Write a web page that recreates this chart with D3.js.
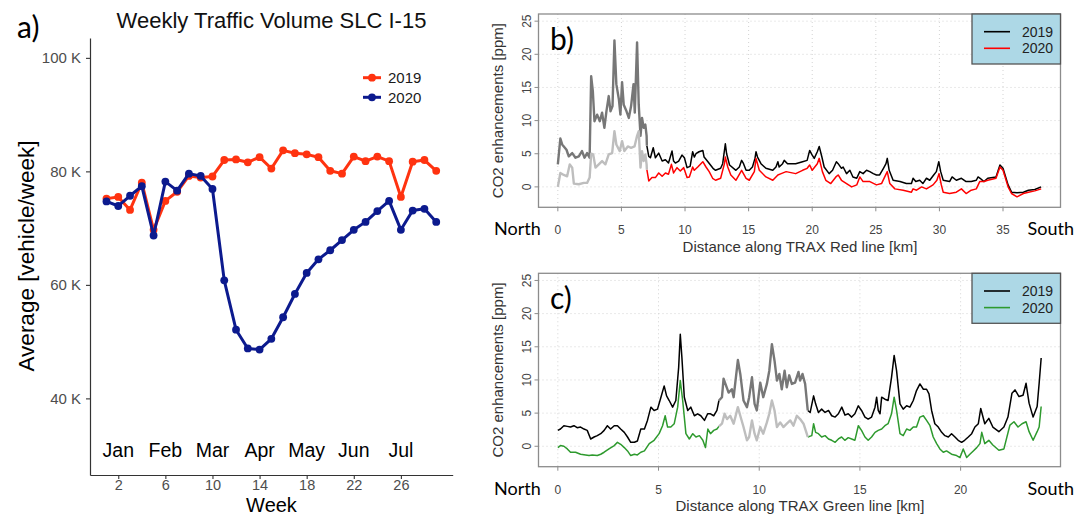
<!DOCTYPE html>
<html>
<head>
<meta charset="utf-8">
<script src="https://cdn.jsdelivr.net/npm/d3@7"></script>
<style>
  body { margin: 0; background: #fff; }
  svg { display: block; }
</style>
</head>
<body>
<svg id="fig" width="1088" height="516"></svg>
<script>
// ---------- a) weekly traffic volume (thousand vehicles / week) ----------
const weeks = [1,2,3,4,5,6,7,8,9,10,11,12,13,14,15,16,17,18,19,20,21,22,23,24,25,26,27,28,29];
const traffic2019 = [75.2,75.5,73.2,78.0,69.7,74.8,76.4,79.2,78.9,79.1,82.0,82.1,81.6,82.5,80.5,83.7,83.2,83.0,82.5,80.1,79.6,82.6,81.8,82.6,81.8,75.5,81.7,82.0,80.1];
const traffic2020 = [74.7,73.9,75.7,77.4,68.7,78.2,76.6,79.6,79.2,76.9,60.8,52.1,48.8,48.6,50.5,54.3,58.4,62.1,64.5,66.1,67.9,69.7,71.1,73.0,74.8,69.7,73.1,73.4,71.1];
const weekTicks = [2,6,10,14,18,22,26];
const monthLabels = ["Jan","Feb","Mar","Apr","May","Jun","Jul"];
const trafficTicks = [40,60,80,100];

// ---------- b) TRAX Red line, CO2 enhancement [ppm] vs distance [km] ----------
const redKm2019 = [0,0.2,0.34,0.47,0.68,0.86,1.13,1.39,1.65,1.9,2.1,2.3,2.5,2.62,2.75,2.88,3.09,3.3,3.48,3.66,3.82,4.0,4.14,4.3,4.45,4.6,4.8,4.92,5.05,5.18,5.4,5.58,5.76,5.95,6.05,6.23,6.36,6.5,6.62,6.75,6.88,6.98,
  7.0,7.15,7.28,7.5,7.67,7.93,8.2,8.46,8.7,8.98,9.1,9.24,9.5,9.76,9.95,10.16,10.4,10.6,10.73,10.86,11.1,11.4,11.5,11.8,12.2,12.4,12.8,12.96,13.1,13.17,13.27,13.5,14.0,14.27,14.45,14.6,14.8,15.05,15.3,15.5,15.58,15.7,15.97,16.36,16.9,17.15,17.3,17.4,17.67,17.8,18.06,18.7,19.24,19.6,19.8,20.0,20.16,20.4,20.55,20.76,20.94,21.33,21.6,21.9,22.04,22.3,22.43,22.7,22.96,23.2,23.5,23.74,24.0,24.27,24.53,24.8,25.05,25.3,25.6,25.8,25.9,26.05,26.36,26.9,27.4,27.8,27.93,28.14,28.45,28.7,28.98,29.24,29.55,29.76,29.95,30.1,30.3,30.8,31.0,31.33,31.73,32.1,32.5,32.9,33.04,33.2,33.5,33.8,34.45,34.76,35.0,35.4,35.67,36.1,36.6,37.0,37.5,38.0];
const redPpm2019 = [3.4,7.3,6.4,6.1,5.6,4.6,5.1,4.4,4.6,5.4,4.4,5.1,4.4,16.7,14.5,9.9,10.9,9.9,11.2,8.9,11.4,13.7,11.4,12.2,22.1,15.5,13.2,10.9,15.8,12.4,11.4,10.4,12.2,15.5,11.2,21.8,12.4,7.7,10.4,8.9,9.4,7.7,
  6.2,4.6,4.4,5.9,4.4,5.1,3.9,4.1,3.6,5.4,3.9,3.6,3.9,4.8,4.4,2.9,3.1,5.3,4.5,5.0,5.3,5.5,4.5,3.8,2.8,2.5,2.8,3.5,5.5,6.5,5.0,3.3,2.5,3.0,4.0,3.5,2.5,2.5,3.0,4.3,5.3,4.5,3.5,2.8,2.5,3.0,3.8,3.0,3.5,4.0,3.5,3.5,3.8,4.0,5.5,4.8,4.3,5.3,6.1,4.5,3.0,2.0,2.5,3.8,3.5,2.8,3.0,2.0,2.5,1.5,1.3,2.3,2.0,2.5,2.3,2.0,1.8,1.8,2.8,3.5,4.3,2.5,1.0,0.8,0.5,0.5,1.3,0.8,1.0,0.5,1.3,1.0,1.8,2.3,3.8,2.3,1.0,0.8,1.5,1.0,1.3,0.8,0.8,1.0,1.5,1.3,0.8,1.3,1.5,3.3,2.8,0.3,-0.8,-0.9,-0.8,-0.5,-0.4,0.0];
const redKm2020 = [0,0.2,0.47,0.73,0.94,1.13,1.26,1.65,2.04,2.3,2.5,2.62,2.78,2.96,3.22,3.48,3.74,4.0,4.27,4.45,4.6,4.87,5.05,5.23,5.5,5.76,6.03,6.23,6.36,6.5,6.62,6.75,6.88,6.98,
  7.0,7.15,7.4,7.67,7.93,8.2,8.46,8.7,8.93,9.1,9.37,9.63,9.9,10.16,10.34,10.6,10.73,11.0,11.4,11.65,11.9,12.17,12.4,12.8,13.1,13.17,13.36,13.6,14.0,14.45,14.8,15.05,15.45,15.58,15.84,16.36,16.9,17.3,17.56,17.95,18.7,19.24,19.6,19.8,20.0,20.4,20.55,20.8,21.07,21.46,21.86,22.04,22.3,22.7,23.1,23.5,23.74,24.0,24.53,25.05,25.45,25.7,25.9,26.1,26.5,27.15,27.8,27.93,28.2,28.6,28.98,29.5,29.8,29.97,30.15,30.3,30.8,31.33,31.73,32.1,32.5,32.9,33.17,33.5,33.8,34.45,34.76,35.0,35.4,35.67,36.1,36.6,37.0,37.5,38.0];
const redPpm2020 = [0.0,2.1,1.8,1.6,3.4,2.9,0.5,0.4,0.6,0.6,1.4,5.0,4.9,2.9,3.4,3.9,3.4,4.9,5.1,8.4,6.4,5.4,6.9,5.4,6.1,5.9,6.1,7.7,8.4,2.9,5.4,3.9,4.9,3.4,
  2.6,0.9,1.4,1.4,2.1,1.6,2.1,1.9,3.4,2.1,2.9,2.4,2.9,1.4,1.5,3.0,2.5,3.0,3.8,3.0,2.3,1.3,1.0,1.3,3.5,4.5,3.0,1.8,1.0,2.5,1.3,1.0,2.3,4.3,2.5,1.5,1.0,1.8,2.0,2.3,2.0,2.5,2.8,3.3,2.5,3.5,4.3,2.3,1.0,0.5,1.5,1.8,1.0,0.5,0.0,0.3,1.5,0.8,0.8,0.3,0.5,1.5,2.3,0.5,-0.3,-0.5,-0.8,-0.3,-0.5,0.0,-0.3,0.3,1.0,2.0,0.3,-0.8,-1.0,-0.8,-0.3,-1.0,-0.5,-0.3,0.8,0.8,1.0,1.3,3.0,2.5,0.0,-1.0,-1.5,-1.0,-0.8,-0.6,-0.3];
const redHighlight = [0, 7];   // stretch drawn in grey

// ---------- c) TRAX Green line ----------
const greenKm2019 = [0,0.13,0.3,0.47,0.63,0.8,0.96,1.13,1.3,1.46,1.63,1.8,1.96,2.13,2.3,2.46,2.62,2.8,2.96,3.12,3.3,3.46,3.62,3.8,3.95,4.12,4.3,4.45,4.62,4.78,4.95,5.12,5.28,5.4,5.53,5.7,5.86,6.0,6.08,6.16,6.28,6.45,6.6,6.78,6.94,7.1,7.28,7.44,7.58,7.74,7.9,8.0,
  8.15,8.23,8.3,8.48,8.64,8.73,8.94,9.06,9.22,9.39,9.5,9.64,9.77,9.88,10.05,10.2,10.38,10.5,10.63,10.76,10.88,11.0,11.12,11.26,11.37,11.49,11.62,11.78,11.95,12.03,12.15,12.28,12.41,
  12.53,12.7,12.8,12.94,13.1,13.27,13.44,13.6,13.77,13.93,14.1,14.26,14.42,14.59,14.75,14.92,15.08,15.25,15.41,15.58,15.75,15.83,15.91,16.0,16.08,16.24,16.4,16.57,16.7,16.82,16.99,17.15,17.32,17.48,17.65,17.81,17.98,18.15,18.31,18.43,18.56,18.72,18.89,19.06,19.22,19.39,19.55,19.72,19.88,20.05,20.2,20.38,20.55,20.71,20.88,21.0,21.2,21.4,21.6,21.9,22.15,22.35,22.55,22.7,22.9,23.1,23.25,23.4,23.6,23.8,23.9,24.0];
const greenPpm2019 = [2.4,2.6,3.1,3.0,2.9,3.1,2.8,2.9,2.6,2.4,1.1,1.4,1.6,1.9,2.4,3.1,2.6,3.1,3.1,2.6,2.1,1.4,0.6,0.6,0.8,2.6,2.6,3.9,5.9,5.4,5.6,7.4,9.1,7.6,6.9,5.9,6.9,11.9,16.9,13.4,7.4,5.4,5.9,4.6,4.9,4.6,3.9,4.9,4.9,4.6,5.4,6.9,
  7.4,10.2,9.6,8.1,8.6,7.4,13.0,10.9,6.9,5.9,7.4,10.4,6.4,5.4,9.6,7.4,9.4,11.4,15.4,12.9,9.9,10.9,8.6,11.4,8.9,10.7,9.4,9.6,11.2,9.9,10.9,9.4,5.4,
  5.1,7.6,6.4,5.1,5.6,5.1,5.4,4.6,4.4,4.9,5.9,4.7,4.9,4.4,4.9,6.1,5.4,4.4,4.1,4.4,5.9,7.4,5.4,4.9,7.4,7.1,6.9,10.4,13.7,11.4,6.4,5.6,6.1,5.9,6.9,8.4,9.4,8.6,8.6,7.9,5.4,3.4,2.9,2.1,1.6,1.4,1.9,1.4,0.9,0.6,0.9,1.4,1.9,2.9,3.4,5.7,3.4,4.2,2.9,2.2,2.9,4.4,8.0,8.5,7.5,7.7,9.5,6.5,4.4,6.0,9.5,13.3];
const greenKm2020 = [0,0.13,0.3,0.47,0.63,0.88,1.13,1.38,1.55,1.71,1.96,2.13,2.3,2.54,2.8,2.96,3.12,3.3,3.46,3.62,3.8,3.95,4.12,4.3,4.54,4.78,5.03,5.2,5.33,5.45,5.61,5.78,5.95,6.08,6.2,6.36,6.53,6.7,6.86,7.03,7.2,7.33,7.45,7.58,7.74,7.9,8.0,
  8.15,8.28,8.4,8.56,8.73,8.94,9.06,9.22,9.39,9.5,9.64,9.77,9.88,10.05,10.2,10.38,10.5,10.63,10.76,10.88,11.04,11.2,11.37,11.54,11.7,11.87,12.03,12.2,12.36,12.41,
  12.61,12.7,12.8,12.94,13.1,13.27,13.44,13.6,13.77,13.93,14.09,14.25,14.42,14.59,14.75,14.92,15.08,15.25,15.41,15.58,15.75,15.91,16.08,16.24,16.4,16.57,16.7,16.82,16.99,17.15,17.32,17.48,17.65,17.81,17.98,18.15,18.31,18.48,18.64,18.81,18.97,19.14,19.3,19.55,19.8,19.97,20.13,20.3,20.46,20.63,20.8,20.96,21.05,21.2,21.4,21.6,21.9,22.15,22.45,22.65,22.85,23.05,23.25,23.4,23.6,23.8,23.9,24.0];
const greenPpm2020 = [-0.2,0.1,0.0,-0.4,-0.9,-0.9,-1.2,-1.3,-1.4,-1.3,-1.4,-1.2,-0.9,-0.4,0.1,0.6,0.3,-0.2,-0.7,-1.4,-1.2,-1.3,-0.9,-0.7,0.4,0.9,1.9,3.1,4.6,2.9,2.9,3.4,5.9,9.9,6.9,1.9,1.1,1.9,1.4,1.6,0.9,-0.2,2.6,1.9,2.4,2.6,3.0,
  3.4,4.9,4.1,4.6,3.4,5.9,4.6,2.9,0.9,1.4,3.9,1.9,0.9,2.9,1.9,3.6,4.9,6.9,5.4,2.9,3.6,2.9,3.4,3.9,3.1,4.6,4.1,3.4,1.9,1.4,
  1.6,3.4,2.1,1.9,1.4,1.6,1.1,0.9,0.6,1.1,1.4,0.9,1.3,1.1,0.9,3.1,2.4,1.4,0.9,1.4,2.1,2.4,2.6,3.1,3.4,4.9,7.4,5.4,1.9,1.6,2.6,2.4,2.9,2.9,4.4,4.6,3.9,3.1,1.4,0.4,-0.4,-0.9,-0.7,-1.2,-1.4,-1.7,-0.4,-1.7,-1.2,-0.7,-0.2,0.4,2.1,0.4,0.9,0.2,-0.6,-0.4,3.2,3.7,2.9,3.4,3.7,2.2,0.9,2.2,2.9,6.0];
const greenHighlight = [8.0, 12.41];

const ppmTicks = [0,5,10,15,20,25];
const years = ["2019","2020"];

// ---------------------------------------------------------------------------
const svg = d3.select("#fig");
const SANS = "'Liberation Sans', Arial, Helvetica, sans-serif";
const LABEL = "Lato, 'Open Sans', sans-serif";

// ===== panel a =====
(function drawTraffic() {
  const g = svg.append("g");
  const x = d3.scaleLinear().domain([-0.4, 30.4]).range([90, 452.7]);
  const y = d3.scaleLinear().domain([26.5, 103.5]).range([475, 38]);
  const red = "#FF3310", blue = "#0C1A8E";

  const xAxis = g.append("g").attr("transform", "translate(0,475)")
    .call(d3.axisBottom(x).tickValues(weekTicks).tickSize(4).tickSizeOuter(0).tickPadding(1));
  const yAxis = g.append("g").attr("transform", "translate(90,0)")
    .call(d3.axisLeft(y).tickValues(trafficTicks).tickSize(4).tickSizeOuter(0).tickPadding(5)
      .tickFormat(d => d + " K"));
  [xAxis, yAxis].forEach(a => {
    a.select(".domain").attr("stroke", "#333").attr("stroke-width", 1.2);
    a.selectAll(".tick line").attr("stroke", "#333").attr("stroke-width", 1.1);
    a.selectAll(".tick text").attr("fill", "#4D4D4D").style("font", "15px " + SANS);
  });
  xAxis.selectAll(".tick text").style("font", "14.5px " + SANS);

  // month names above the week ticks
  g.selectAll(".month").data(monthLabels).join("text")
    .attr("x", (d, i) => x(weekTicks[i])).attr("y", 457)
    .attr("text-anchor", "middle").attr("fill", "#000")
    .style("font", "19.5px " + SANS).text(d => d);

  const line = d3.line().x((d, i) => x(weeks[i])).y(d => y(d));
  [[traffic2019, red], [traffic2020, blue]].forEach(([vals, col]) => {
    g.append("path").datum(vals).attr("d", line)
      .attr("fill", "none").attr("stroke", col).attr("stroke-width", 3).attr("stroke-linejoin", "round");
    g.selectAll(null).data(vals).join("circle")
      .attr("cx", (d, i) => x(weeks[i])).attr("cy", d => y(d)).attr("r", 3.9).attr("fill", col);
  });

  // legend
  const leg = g.append("g");
  [[years[0], red, 77.7], [years[1], blue, 97.3]].forEach(([lab, col, ly]) => {
    leg.append("line").attr("x1", 363).attr("x2", 381).attr("y1", ly).attr("y2", ly)
      .attr("stroke", col).attr("stroke-width", 3);
    leg.append("circle").attr("cx", 372).attr("cy", ly).attr("r", 3.9).attr("fill", col);
    leg.append("text").attr("x", 388).attr("y", ly + 5.5).attr("fill", "#1A1A1A")
      .style("font", "15px " + SANS).text(lab);
  });

  g.append("text").attr("x", 271.5).attr("y", 28).attr("text-anchor", "middle")
    .style("font", "22px " + SANS).attr("fill", "#111").text("Weekly Traffic Volume SLC I-15");
  g.append("text").attr("x", 271.5).attr("y", 511.5).attr("text-anchor", "middle")
    .style("font", "20px " + SANS).attr("fill", "#000").text("Week");
  g.append("text").attr("transform", "translate(26,256) rotate(-90)").attr("dy", "0.35em")
    .attr("text-anchor", "middle").style("font", "22.5px " + SANS).attr("fill", "#000")
    .text("Average [vehicle/week]");
  g.append("text").attr("x", 17).attr("y", 38).style("font", "30px " + LABEL).attr("fill", "#000").text("a)");
})();

// ===== panels b, c =====
function drawProfile(o) {
  const g = svg.append("g");
  const L = 538.5, R = 1060.5;
  const x = d3.scaleLinear().domain(o.xDomain).range([L, R]);
  const y = d3.scaleLinear().domain([-3.08, 26.08]).range([o.bottom, o.top]);

  // dotted grid
  g.selectAll(".gx").data(o.xTicks).join("line")
    .attr("x1", d => x(d)).attr("x2", d => x(d)).attr("y1", o.top).attr("y2", o.bottom)
    .attr("stroke", "#D3D3D3").attr("stroke-dasharray", "1,3");
  g.selectAll(".gy").data(ppmTicks).join("line")
    .attr("x1", L).attr("x2", R).attr("y1", d => y(d)).attr("y2", d => y(d))
    .attr("stroke", "#D3D3D3").attr("stroke-dasharray", "1,3");

  // series: coloured outside the highlight stretch, grey inside it
  const [h0, h1] = o.highlight;
  const line = d3.line().x(d => x(d[0])).y(d => y(d[1]));
  o.series.forEach(s => {
    const pts = s.km.map((k, i) => [k, s.ppm[i]]);
    const pre = pts.filter(p => p[0] <= h0);
    const mid = pts.filter(p => p[0] >= h0 && p[0] <= h1);
    const post = pts.filter(p => p[0] >= h1);
    [pre, post].forEach(seg => {
      if (seg.length > 1) g.append("path").datum(seg).attr("d", line).attr("fill", "none")
        .attr("stroke", s.color).attr("stroke-width", 1.5).attr("stroke-linejoin", "round");
    });
    g.append("path").datum(mid).attr("d", line).attr("fill", "none")
      .attr("stroke", s.grey).attr("stroke-width", 2.4).attr("stroke-linejoin", "round");
  });

  // frame and ticks
  g.append("rect").attr("x", L).attr("y", o.top).attr("width", R - L).attr("height", o.bottom - o.top)
    .attr("fill", "none").attr("stroke", "#8C8C8C").attr("stroke-width", 1.3);
  g.selectAll(".tx").data(o.xTicks).join("line")
    .attr("x1", d => x(d)).attr("x2", d => x(d)).attr("y1", o.bottom).attr("y2", o.bottom + 4)
    .attr("stroke", "#8C8C8C");
  g.selectAll(".ty").data(ppmTicks).join("line")
    .attr("x1", L - 4).attr("x2", L).attr("y1", d => y(d)).attr("y2", d => y(d))
    .attr("stroke", "#8C8C8C");
  g.selectAll(".lx").data(o.xTicks).join("text")
    .attr("x", d => x(d)).attr("y", o.bottom + 27).attr("text-anchor", "middle")
    .attr("fill", "#444").style("font", "12px " + SANS).text(d => d);
  g.selectAll(".ly").data(ppmTicks).join("text")
    .attr("transform", d => `translate(527,${y(d)}) rotate(-90)`).attr("dy", "0.35em")
    .attr("text-anchor", "middle").attr("fill", "#444").style("font", "12px " + SANS).text(d => d);

  g.append("text").attr("transform", `translate(497.5,${(o.top + o.bottom) / 2}) rotate(-90)`)
    .attr("dy", "0.35em").attr("text-anchor", "middle").attr("fill", "#333")
    .style("font", "15px " + SANS).text("CO2 enhancements [ppm]");
  g.append("text").attr("x", 800).attr("y", o.bottom + 44.5).attr("text-anchor", "middle")
    .attr("fill", "#333").style("font", "15px " + SANS).text(o.xTitle);
  g.append("text").attr("x", 494).attr("y", o.bottom + 28).style("font", "18px " + LABEL)
    .attr("fill", "#000").text("North");
  g.append("text").attr("x", 1074).attr("y", o.bottom + 28).attr("text-anchor", "end")
    .style("font", "18px " + LABEL).attr("fill", "#000").text("South");
  g.append("text").attr("x", 550).attr("y", o.top + 36).style("font", "30px " + LABEL)
    .attr("fill", "#000").text(o.panel);

  // legend
  const lg = g.append("g");
  lg.append("rect").attr("x", 972).attr("y", o.top).attr("width", R - 972).attr("height", 50)
    .attr("fill", "#ADD8E6").attr("stroke", "#555").attr("stroke-width", 1.3);
  o.series.forEach((s, i) => {
    const ly = o.top + 17.7 + i * 16.6;
    lg.append("line").attr("x1", 984).attr("x2", 1010).attr("y1", ly).attr("y2", ly)
      .attr("stroke", s.color).attr("stroke-width", 1.6);
    lg.append("text").attr("x", 1022).attr("y", ly + 5).attr("fill", "#222")
      .style("font", "14px " + SANS).text(years[i]);
  });
}

drawProfile({
  panel: "b)", top: 14, bottom: 207.3, xDomain: [-1.52, 39.52],
  xTicks: [0,5,10,15,20,25,30,35], highlight: redHighlight,
  xTitle: "Distance along TRAX Red line [km]",
  series: [
    { km: redKm2019, ppm: redPpm2019, color: "#000", grey: "#777" },
    { km: redKm2020, ppm: redPpm2020, color: "#FF0000", grey: "#BEBEBE" }
  ]
});
drawProfile({
  panel: "c)", top: 273.3, bottom: 466.7, xDomain: [-0.96, 24.96],
  xTicks: [0,5,10,15,20], highlight: greenHighlight,
  xTitle: "Distance along TRAX Green line [km]",
  series: [
    { km: greenKm2019, ppm: greenPpm2019, color: "#000", grey: "#777" },
    { km: greenKm2020, ppm: greenPpm2020, color: "#2E9A2E", grey: "#BEBEBE" }
  ]
});
</script>
</body>
</html>
